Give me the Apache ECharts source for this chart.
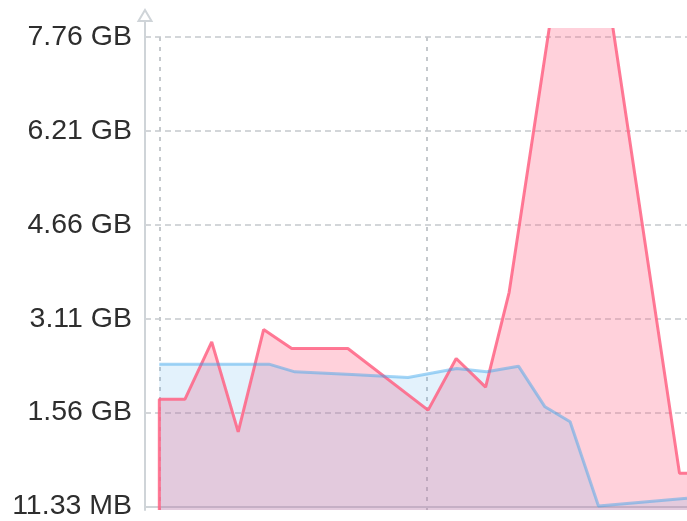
<!DOCTYPE html>
<html>
<head>
<meta charset="utf-8">
<script src="https://cdn.jsdelivr.net/npm/echarts@6/dist/echarts.min.js"></script>
<style>
  html, body { margin: 0; padding: 0; background: #fff; }
  #chart { width: 687px; height: 521px; }
</style>
</head>
<body>
<div id="chart"></div>
<script>
// Memory over time: x in minutes, values in MB.
const BASE_MB = 11.33;        // lowest reading; the y axis starts here
const TICK_STEP_MB = 1587;    // spacing between y axis ticks
const yTickLabels = ['11.33 MB', '1.56 GB', '3.11 GB', '4.66 GB', '6.21 GB', '7.76 GB'];

// Allocated memory (red)
const allocTimes = [0, 0, 0.96, 1.96, 2.95, 3.9, 4.95, 7.05, 10.05, 11.1, 12.2, 13.08, 15.2, 16.35, 19.45, 20.5];
const allocMB    = [11.33, 1871, 1871, 2831, 1323, 3039, 2721, 2721, 1687, 2553, 2072, 3664, 9930, 9930, 626, 626];

// Used memory (blue)
const usedTimes = [0, 4.1, 5.07, 7.2, 9.3, 11.12, 12.24, 13.43, 14.42, 15.36, 16.42, 19.73];
const usedMB    = [2458, 2458, 2329, 2285, 2235, 2386, 2329, 2424, 1742, 1491, 78, 207];

const X_MIN = -0.535;
const X_MAX = 19.73;
const X_STEP = 10;           // vertical grid lines every 10 minutes, from t = 0

const chart = echarts.init(document.getElementById('chart'), null, { renderer: 'canvas' });
const W = chart.getWidth();
const H = chart.getHeight();

// Shared layout. Stacked grids with different tops: ticks/labels,
// series clipping area, arrowed axis line, and the time grid lines
// (which start at t = 0 rather than at the left edge).
const side = { left: 145, right: 0, bottom: 11 };
const TICK_TOP = 37, CLIP_TOP = 29.5, ARROW_TOP = 21;

const yMax = TICK_STEP_MB * (yTickLabels.length - 1);
const plotMax = yMax * (H - side.bottom - CLIP_TOP) / (H - side.bottom - TICK_TOP);

const pxPerMin = (W - side.left - side.right) / (X_MAX - X_MIN);
const timeGridLeft = side.left + (0 - X_MIN) * pxPerMin;

const toPairs = (ts, vs) => ts.map((t, i) => [t, vs[i] - BASE_MB]);

const gridColor = '#c5c9cd';
const axisColor = '#cfd4d8';

const option = {
  animation: false,
  backgroundColor: '#fff',
  grid: [
    Object.assign({ top: TICK_TOP }, side),
    Object.assign({ top: CLIP_TOP }, side),
    Object.assign({ top: ARROW_TOP }, side),
    { top: TICK_TOP, bottom: side.bottom, right: side.right, left: timeGridLeft }
  ],
  xAxis: [
    {
      gridIndex: 0, type: 'value', min: X_MIN, max: X_MAX,
      axisLine: { show: true, onZero: false, lineStyle: { color: axisColor, width: 2 } },
      axisTick: { show: false },
      axisLabel: { show: false },
      splitLine: { show: false }
    },
    { gridIndex: 1, type: 'value', min: X_MIN, max: X_MAX, show: false },
    { gridIndex: 2, type: 'value', min: X_MIN, max: X_MAX, show: false },
    {
      gridIndex: 3, type: 'value', min: 0, max: X_MAX, interval: X_STEP,
      axisLine: { show: false }, axisTick: { show: false }, axisLabel: { show: false },
      splitLine: {
        show: true, showMinLine: true, showMaxLine: false,
        lineStyle: { color: gridColor, width: 2, type: [4, 6] }
      }
    }
  ],
  yAxis: [
    {
      gridIndex: 0, type: 'value', min: 0, max: yMax, interval: TICK_STEP_MB,
      axisLine: { show: false },
      axisTick: { show: false },
      axisLabel: {
        color: '#2e2e2e', fontFamily: 'Liberation Sans', fontSize: 28.5,
        margin: 13, padding: [0, 0, 7, 0],
        formatter: v => yTickLabels[Math.round(v / TICK_STEP_MB)]
      },
      splitLine: { show: true, lineStyle: { color: gridColor, width: 1.5, type: [6, 4] } }
    },
    { gridIndex: 1, type: 'value', min: 0, max: plotMax, show: false },
    {
      gridIndex: 2, type: 'value', min: 0, max: 1,
      axisLine: {
        show: true, onZero: false,
        symbol: ['none', 'emptyTriangle'], symbolSize: [13, 11], symbolOffset: [0, 5.5],
        lineStyle: { color: axisColor, width: 2 }
      },
      axisTick: { show: false },
      axisLabel: { show: false },
      splitLine: { show: false }
    },
    { gridIndex: 3, type: 'value', min: 0, max: 1, show: false }
  ],
  series: [
    {
      name: 'Allocated', type: 'line', xAxisIndex: 1, yAxisIndex: 1,
      data: toPairs(allocTimes, allocMB),
      symbol: 'none', clip: true,
      lineStyle: { color: 'rgba(255,99,132,0.85)', width: 3 },
      areaStyle: { color: 'rgba(255,99,132,0.42)' }
    },
    {
      name: 'Used', type: 'line', xAxisIndex: 1, yAxisIndex: 1,
      data: toPairs(usedTimes, usedMB),
      symbol: 'none', clip: true,
      lineStyle: { color: 'rgba(54,162,235,0.45)', width: 3 },
      areaStyle: { color: 'rgba(54,162,235,0.2)' }
    }
  ]
};

chart.setOption(option);
</script>
</body>
</html>
